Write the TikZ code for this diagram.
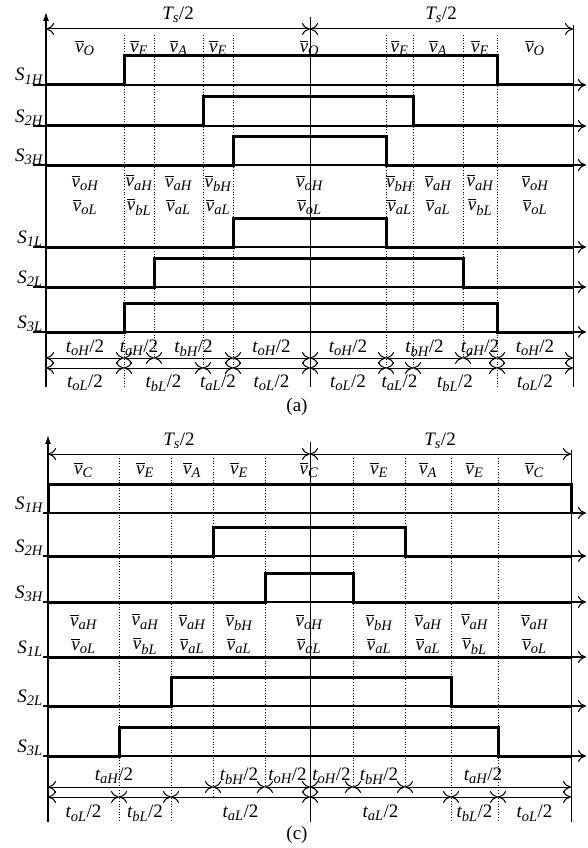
\documentclass[tikz,border=0pt]{standalone}
\usepackage{amsmath}
\usepackage{fontspec}
\setmainfont{Liberation Serif}
\usetikzlibrary{arrows.meta,positioning,calc}
\DeclareMathSizes{19}{19}{14.5}{11}
\newcommand{\avg}[1]{$\overline{\text{\itshape v}}_{\text{\itshape #1}}$}
\newcommand{\tlen}[1]{$\text{\itshape t}_{\text{\itshape #1}}$/2}
\newcommand{\swlab}[1]{$\text{\itshape S}_{\text{\itshape #1}}$}
\newcommand{\halfT}{$\text{\itshape T}_{\text{\itshape s}}$/2}

\begin{document}
\begin{tikzpicture}[x=1pt,y=-1pt,
  every node/.style={font=\fontsize{19}{20}\selectfont,inner sep=0pt},
  yaxis/.style={line width=1.1pt,-{Latex[length=9pt,width=6pt]}},
  xaxis/.style={line width=1.1pt,-{To[length=8pt,width=12pt]}},
  frame/.style={line width=1pt},
  grid/.style={dotted,line width=0.7pt},
  sig/.style={line width=3pt},
  span/.style={line width=1pt,{To[length=8pt,width=12pt]}-{To[length=8pt,width=12pt]}},
  swname/.style={anchor=base east},
  pair/.style={align=center,font=\fontsize{19}{24}\selectfont}
]
\useasboundingbox (0,0) rectangle (587,848);

%%% panel (a)
\draw[yaxis] (46,387) -- (46,12);
\draw[frame] (310,17) -- (310,387);
\draw[frame] (573,25) -- (573,387);
\draw[span] (46,29) -- (310,29);
\draw[span] (310,29) -- (573,29);
\node (tsa1) at (178,15) {\halfT};
\node (tsa2) at (441,15) {\halfT};

\foreach \x/\yb in {124/387,154/358,203/368,233/368,386/368,413/368,463/358,497/387}
  \draw[grid] (\x,35) -- (\x,\yb);

\foreach \xa/\xb/\s [count=\i] in {46/124/O,124/154/E,154/203/A,203/233/E,233/386/O,386/413/E,413/463/A,463/497/E,497/573/O}
  \node (va\i) at ({(\xa+\xb)/2},48) {\avg{\s}};

\foreach \xa/\xb/\h/\l [count=\i] in {46/124/oH/oL,124/154/aH/bL,154/203/aH/aL,203/233/bH/aL,233/386/oH/oL,386/413/bH/aL,413/463/aH/aL,463/497/aH/bL,497/573/oH/oL}
  \node[pair] (pa\i) at ({(\xa+\xb)/2},195) {\avg{\h}\\\avg{\l}};

% switching signals
\foreach \sw/\yb/\on/\off in {1H/85/124/497,2H/126/203/413,3H/165/233/386,1L/247/233/386,2L/287/154/463,3L/332/124/497} {
  \draw[xaxis] (33,\yb) -- (586,\yb);
  \node[swname] (sa\sw) at (43,\yb-4) {\swlab{\sw}};
  \draw[sig] (46,\yb) -- (\on,\yb) -- (\on,\yb-29) -- (\off,\yb-29) -- (\off,\yb) -- (573,\yb);
}

% time intervals
\foreach \xa/\xb/\s [count=\i] in {46/124/oH,124/154/aH,154/233/bH,233/310/oH,310/386/oH,386/463/bH,463/497/aH,497/573/oH} {
  \draw[span] (\xa,358) -- (\xb,358);
  \node (tha\i) at ({(\xa+\xb)/2},348) {\tlen{\s}};
}
\foreach \xa/\xb/\s [count=\i] in {46/124/oL,124/203/bL,203/233/aL,233/310/oL,310/386/oL,386/413/aL,413/497/bL,497/573/oL} {
  \draw[span] (\xa,368) -- (\xb,368);
  \node (tla\i) at ({(\xa+\xb)/2},383) {\tlen{\s}};
}
\node (capa) at (297,407) {(a)};

%%% panel (c)
\draw[yaxis] (48,822) -- (48,435);
\draw[frame] (310,442) -- (310,822);
\draw[frame] (571,450) -- (571,822);
\draw[span] (48,454) -- (310,454);
\draw[span] (310,454) -- (571,454);
\node (tsc1) at (179,441) {\halfT};
\node (tsc2) at (440,441) {\halfT};

\foreach \x/\yb in {119/822,171/822,213/797,265/787,353/790,405/787,451/822,498/822}
  \draw[grid] (\x,458) -- (\x,\yb);

\foreach \xa/\xb/\s [count=\i] in {48/119/C,119/171/E,171/213/A,213/265/E,265/353/C,353/405/E,405/451/A,451/498/E,498/571/C}
  \node (vc\i) at ({(\xa+\xb)/2},470) {\avg{\s}};

\foreach \xa/\xb/\h/\l [count=\i] in {48/119/aH/oL,119/171/aH/bL,171/213/aH/aL,213/265/bH/aL,265/353/oH/aL,353/405/bH/aL,405/451/aH/aL,451/498/aH/bL,498/571/aH/oL}
  \node[pair] (pc\i) at ({(\xa+\xb)/2},634) {\avg{\h}\\\avg{\l}};

% switching signals
\foreach \sw/\yb/\on/\off in {1H/513/48/571,2H/556/213/405,3H/602/265/353,2L/706/171/451,3L/756/119/498} {
  \draw[xaxis] (43,\yb) -- (586,\yb);
  \node[swname] (sc\sw) at (43,\yb-4) {\swlab{\sw}};
  \draw[sig] (48,\yb) -- (\on,\yb) -- (\on,\yb-29) -- (\off,\yb-29) -- (\off,\yb) -- (571,\yb);
}
\draw[xaxis] (43,657) -- (586,657);
\node[swname] (sc1L) at (43,653) {\swlab{1L}};
\draw[sig] (48,657) -- (571,657);

% time intervals
\foreach \xa/\xb/\s/\p [count=\i] in {48/213/aH/0.4,213/265/bH/0.5,265/310/oH/0.5,310/353/oH/0.5,353/405/bH/0.5,405/571/aH/0.47} {
  \draw[span] (\xa,787) -- (\xb,787);
  \node (thc\i) at ({\xa+\p*(\xb-\xa)},776) {\tlen{\s}};
}
\foreach \xa/\xb/\s [count=\i] in {48/119/oL,119/171/bL,171/310/aL,310/451/aL,451/498/bL,498/571/oL} {
  \draw[span] (\xa,797) -- (\xb,797);
  \node (tlc\i) at ({(\xa+\xb)/2},813) {\tlen{\s}};
}
\node (capc) at (297,835) {(c)};
\end{tikzpicture}
\end{document}
